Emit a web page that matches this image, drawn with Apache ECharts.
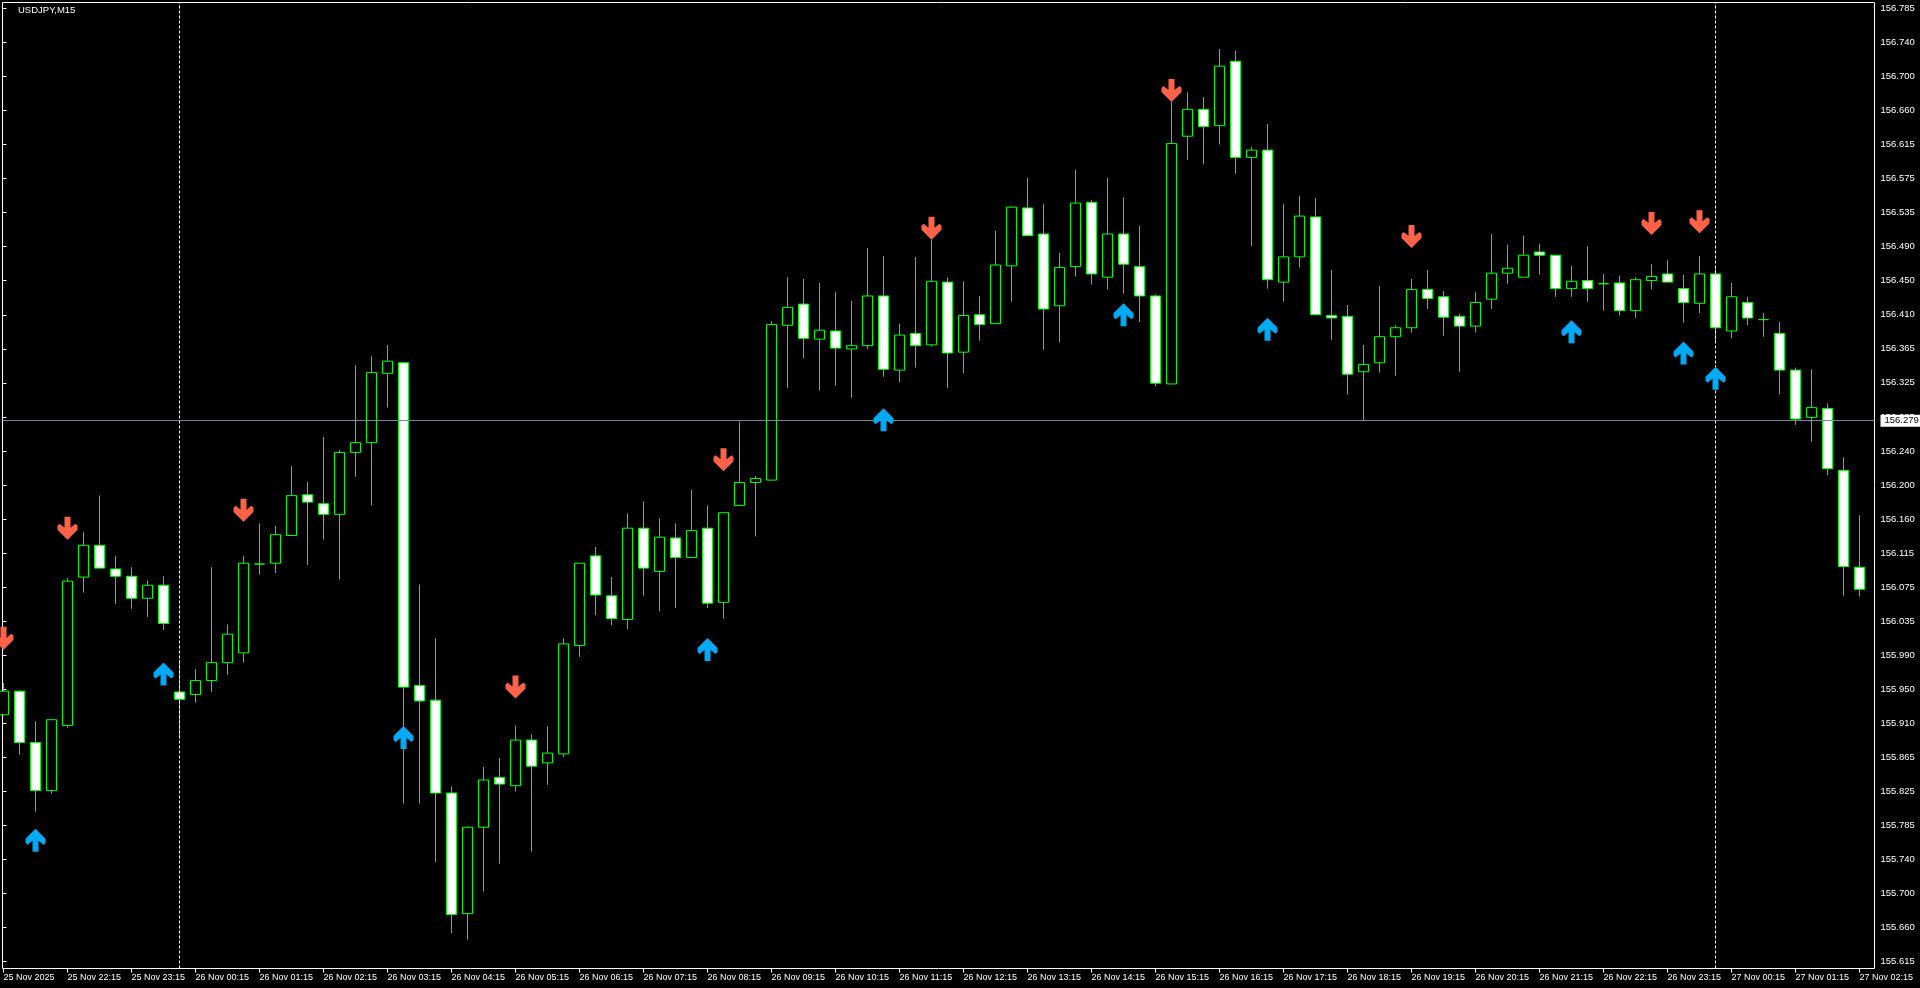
<!DOCTYPE html>
<html><head><meta charset="utf-8">
<script src="https://cdn.jsdelivr.net/npm/echarts@6/dist/echarts.min.js"></script>
<style>html,body{margin:0;padding:0;background:#000;overflow:hidden}#c{width:1920px;height:988px;}</style>
</head><body><div id="c"></div>
<script>
const symbolName = 'USDJPY,M15';

const categories = [
'25 Nov 21:15','25 Nov 21:30','25 Nov 21:45',
'25 Nov 22:00','25 Nov 22:15','25 Nov 22:30','25 Nov 22:45',
'25 Nov 23:00','25 Nov 23:15','25 Nov 23:30','25 Nov 23:45',
'26 Nov 00:00','26 Nov 00:15','26 Nov 00:30','26 Nov 00:45',
'26 Nov 01:00','26 Nov 01:15','26 Nov 01:30','26 Nov 01:45',
'26 Nov 02:00','26 Nov 02:15','26 Nov 02:30','26 Nov 02:45',
'26 Nov 03:00','26 Nov 03:15','26 Nov 03:30','26 Nov 03:45',
'26 Nov 04:00','26 Nov 04:15','26 Nov 04:30','26 Nov 04:45',
'26 Nov 05:00','26 Nov 05:15','26 Nov 05:30','26 Nov 05:45',
'26 Nov 06:00','26 Nov 06:15','26 Nov 06:30','26 Nov 06:45',
'26 Nov 07:00','26 Nov 07:15','26 Nov 07:30','26 Nov 07:45',
'26 Nov 08:00','26 Nov 08:15','26 Nov 08:30','26 Nov 08:45',
'26 Nov 09:00','26 Nov 09:15','26 Nov 09:30','26 Nov 09:45',
'26 Nov 10:00','26 Nov 10:15','26 Nov 10:30','26 Nov 10:45',
'26 Nov 11:00','26 Nov 11:15','26 Nov 11:30','26 Nov 11:45',
'26 Nov 12:00','26 Nov 12:15','26 Nov 12:30','26 Nov 12:45',
'26 Nov 13:00','26 Nov 13:15','26 Nov 13:30','26 Nov 13:45',
'26 Nov 14:00','26 Nov 14:15','26 Nov 14:30','26 Nov 14:45',
'26 Nov 15:00','26 Nov 15:15','26 Nov 15:30','26 Nov 15:45',
'26 Nov 16:00','26 Nov 16:15','26 Nov 16:30','26 Nov 16:45',
'26 Nov 17:00','26 Nov 17:15','26 Nov 17:30','26 Nov 17:45',
'26 Nov 18:00','26 Nov 18:15','26 Nov 18:30','26 Nov 18:45',
'26 Nov 19:00','26 Nov 19:15','26 Nov 19:30','26 Nov 19:45',
'26 Nov 20:00','26 Nov 20:15','26 Nov 20:30','26 Nov 20:45',
'26 Nov 21:00','26 Nov 21:15','26 Nov 21:30','26 Nov 21:45',
'26 Nov 22:00','26 Nov 22:15','26 Nov 22:30','26 Nov 22:45',
'26 Nov 23:00','26 Nov 23:15','26 Nov 23:30','26 Nov 23:45',
'27 Nov 00:00','27 Nov 00:15','27 Nov 00:30','27 Nov 00:45',
'27 Nov 01:00','27 Nov 01:15','27 Nov 01:30','27 Nov 01:45',
'27 Nov 02:00','27 Nov 02:15'
];

const opens = [
155.918,155.947,155.884,155.825,155.905,156.087,156.126,156.097,156.088,156.061,
156.077,155.946,155.943,155.960,155.982,155.994,156.103,156.104,156.138,156.188,
156.177,156.164,156.240,156.252,156.337,156.350,155.954,155.936,155.822,155.674,
155.780,155.841,155.831,155.887,155.859,155.870,156.003,156.113,156.064,156.035,
156.147,156.094,156.135,156.111,156.147,156.056,156.175,156.203,156.206,156.396,
156.422,156.379,156.389,156.367,156.371,156.432,156.341,156.386,156.372,156.449,
156.363,156.409,156.398,156.469,156.540,156.508,156.420,156.468,156.547,156.455,
156.508,156.468,156.432,156.324,156.628,156.661,156.641,156.720,156.602,156.611,
156.449,156.480,156.529,156.408,156.407,156.339,156.350,156.382,156.393,156.440,
156.431,156.407,156.395,156.428,156.460,156.455,156.486,156.482,156.441,156.451,
156.447,156.448,156.414,156.451,156.459,156.441,156.423,156.459,156.389,156.424,
156.403,156.386,156.341,156.283,156.294,156.218,156.099
];
const highs = [
155.957,155.948,155.910,155.912,156.086,156.142,156.187,156.113,156.099,156.083,
156.088,155.985,155.974,156.099,156.029,156.113,156.153,156.150,156.223,156.204,
156.259,156.243,156.347,156.358,156.372,156.351,156.078,156.012,155.830,155.781,
155.854,155.865,155.905,155.894,155.904,156.012,156.104,156.124,156.087,156.165,
156.180,156.159,156.153,156.194,156.175,156.166,156.278,156.211,156.401,156.455,
156.453,156.448,156.437,156.426,156.491,156.481,156.398,156.480,156.501,156.455,
156.450,156.432,156.512,156.542,156.577,156.545,156.485,156.587,156.550,156.577,
156.553,156.518,156.434,156.670,156.682,156.676,156.735,156.733,156.615,156.643,
156.545,156.555,156.552,156.464,156.421,156.372,156.444,156.396,156.453,156.464,
156.438,156.410,156.437,156.508,156.495,156.506,156.496,156.482,156.469,156.493,
156.459,156.457,156.455,156.471,156.476,156.458,156.481,156.466,156.448,156.431,
156.411,156.400,156.344,156.342,156.300,156.234,156.163
];
const lows = [
155.917,155.869,155.799,155.821,155.902,156.068,156.098,156.054,156.048,156.038,
156.022,155.890,155.933,155.946,155.967,155.982,156.090,156.092,156.138,156.102,
156.133,156.084,156.210,156.175,156.295,155.809,155.809,155.737,155.650,155.642,
155.701,155.735,155.824,155.750,155.832,155.866,155.989,156.040,156.028,156.023,
156.064,156.045,156.049,156.111,156.049,156.036,156.175,156.137,156.206,156.319,
156.356,156.316,156.322,156.307,156.367,156.333,156.326,156.344,156.370,156.319,
156.337,156.377,156.398,156.425,156.506,156.366,156.375,156.456,156.446,156.440,
156.435,156.400,156.321,156.324,156.599,156.594,156.618,156.582,156.493,156.441,
156.425,156.467,156.409,156.378,156.311,156.279,156.338,156.334,156.387,156.416,
156.383,156.339,156.387,156.416,156.447,156.455,156.458,156.431,156.431,156.425,
156.414,156.408,156.405,156.440,156.449,156.399,156.411,156.376,156.380,156.396,
156.382,156.311,156.274,156.253,156.212,156.064,156.063
];
const closes = [
155.947,155.884,155.825,155.912,156.082,156.126,156.098,156.088,156.061,156.077,
156.030,155.937,155.960,155.982,156.017,156.104,156.103,156.139,156.187,156.179,
156.164,156.240,156.252,156.338,156.352,155.952,155.935,155.822,155.673,155.780,
155.838,155.833,155.887,155.855,155.871,156.005,156.104,156.065,156.036,156.147,
156.098,156.136,156.111,156.144,156.055,156.166,156.203,156.208,156.397,156.418,
156.380,156.390,156.368,156.371,156.432,156.342,156.384,156.371,156.450,156.362,
156.408,156.397,156.470,156.541,156.506,156.416,156.467,156.546,156.459,156.508,
156.471,156.432,156.325,156.619,156.661,156.640,156.714,156.602,156.611,156.452,
156.480,156.530,156.409,156.405,156.336,156.348,156.382,156.393,156.440,156.429,
156.406,156.395,156.424,156.460,156.466,156.482,156.482,156.441,156.450,156.441,
156.447,156.414,156.452,156.456,156.449,156.424,156.459,156.393,156.431,156.405,
156.403,156.341,156.281,156.295,156.220,156.100,156.072
];

const sellArrowBars   = [0, 4, 15, 32, 45, 58, 73, 88, 103, 106];
const sellArrowPrices = [156.012,156.147,156.169,155.952,156.231,156.515,156.684,156.505,156.521,156.523];
const buyArrowBars    = [2, 10, 25, 44, 55, 70, 79, 98, 105, 107];
const buyArrowPrices  = [155.764,155.968,155.890,155.998,156.280,156.409,156.391,156.388,156.362,156.331];

const xTickLabels = [
'25 Nov 2025','25 Nov 22:15','25 Nov 23:15',
'26 Nov 00:15','26 Nov 01:15','26 Nov 02:15','26 Nov 03:15','26 Nov 04:15','26 Nov 05:15',
'26 Nov 06:15','26 Nov 07:15','26 Nov 08:15','26 Nov 09:15','26 Nov 10:15','26 Nov 11:15',
'26 Nov 12:15','26 Nov 13:15','26 Nov 14:15','26 Nov 15:15','26 Nov 16:15','26 Nov 17:15',
'26 Nov 18:15','26 Nov 19:15','26 Nov 20:15','26 Nov 21:15','26 Nov 22:15','26 Nov 23:15',
'27 Nov 00:15','27 Nov 01:15','27 Nov 02:15'
];
const yTickLabels = [
'155.615','155.660','155.700','155.740','155.785','155.825','155.865','155.910','155.950','155.990',
'156.035','156.075','156.115','156.160','156.200','156.240','156.285','156.325','156.365','156.410',
'156.450','156.490','156.535','156.575','156.615','156.660','156.700','156.740','156.785'
];
const daySeparators = ['26 Nov 00:00', '27 Nov 00:00'];
const hLinePrice = 156.279;

// ---- layout ----
const Y_MIN = 155.60666, Y_MAX = 156.79213;
const TICK_LO = 155.615, TICK_HI = 156.785;
const tickStep = (TICK_HI - TICK_LO) / (yTickLabels.length - 1);
const tickPos = yTickLabels.map((_, k) => TICK_LO + k * tickStep);
const FONT = '"Liberation Sans", Arial, sans-serif';
const FS = 9.5;
const FSX = 9;

const downArrow = 'path://M7,0 L13,0 L13,11 L18,7 L20,9 L20,13 L10,23 L0,13 L0,9 L2,7 L7,11 Z';
const upArrow   = 'path://M7,23 L13,23 L13,12 L18,16 L20,14 L20,10 L10,0 L0,10 L0,14 L2,16 L7,12 Z';

const candleData = categories.map((_, i) => [opens[i], closes[i], lows[i], highs[i]]);

const chart = echarts.init(document.getElementById('c'), null, {renderer: 'canvas'});
chart.setOption({
  backgroundColor: '#000',
  animation: false,
  title: { text: symbolName, left: 18, top: 5, padding: 0,
    textStyle: { color: '#fff', fontSize: FS, fontWeight: 'normal', fontFamily: FONT } },
  grid: [
    { left: -4.5, width: 1872, top: 2.5, bottom: 19.5, containLabel: false, outerBoundsMode: 'none' },
    { left: 2.5, right: 45.5, top: 2.5, bottom: 19.5, containLabel: false, outerBoundsMode: 'none',
      show: true, borderColor: '#ffffff', borderWidth: 1, backgroundColor: 'transparent' }
  ],
  xAxis: [
    { type: 'category', gridIndex: 0, data: categories, boundaryGap: true,
      axisLine: { show: false },
      axisTick: { show: true, interval: 3, alignWithLabel: true, length: 4, lineStyle: { color: '#fff' } },
      axisLabel: { interval: 3, align: 'left', margin: 5, color: '#fff', fontSize: FSX, fontFamily: FONT,
        hideOverlap: false, overflow: 'none', width: 120,
        formatter: (v, i) => xTickLabels[Math.round(i / 4)] },
      splitLine: { show: false } },
    { type: 'value', gridIndex: 1, min: 0, max: 1, show: false }
  ],
  yAxis: [
    { type: 'value', gridIndex: 0, min: Y_MIN, max: Y_MAX, show: false },
    { type: 'value', gridIndex: 1, position: 'right', min: Y_MIN, max: Y_MAX,
      axisLine: { show: false }, splitLine: { show: false },
      axisTick: { show: true, customValues: tickPos, length: 4, lineStyle: { color: '#fff' } },
      axisLabel: { customValues: tickPos, margin: 6, color: '#fff', fontSize: FS, fontFamily: FONT,
        formatter: v => yTickLabels[Math.round((v - TICK_LO) / tickStep)] } },
    { type: 'value', gridIndex: 1, position: 'right', min: Y_MIN, max: Y_MAX, z: 10,
      axisLine: { show: false }, splitLine: { show: false }, axisTick: { show: false },
      axisLabel: { customValues: [hLinePrice], margin: 6, color: '#000', backgroundColor: '#fff',
        padding: [1, 8, 1, 4], fontSize: FS, fontFamily: FONT, formatter: v => v.toFixed(3) } }
  ],
  series: [
    { type: 'candlestick', xAxisIndex: 0, yAxisIndex: 0, data: candleData, barWidth: 10,
      itemStyle: { color: '#000000', color0: '#ffffff', borderColor: '#00ff00', borderColor0: '#00ff00', borderWidth: 1 },
      markLine: { silent: true, symbol: 'none', label: { show: false },
        lineStyle: { color: '#ffffff', type: [3, 2], width: 1 },
        data: daySeparators.map(d => ({ xAxis: d })) } },
    { type: 'scatter', xAxisIndex: 0, yAxisIndex: 0, symbol: downArrow, symbolSize: [20, 23], z: 5,
      itemStyle: { color: '#ff6347', opacity: 1 },
      data: sellArrowBars.map((b, j) => [b, sellArrowPrices[j]]) },
    { type: 'scatter', xAxisIndex: 0, yAxisIndex: 0, symbol: upArrow, symbolSize: [20, 23], z: 5,
      itemStyle: { color: '#00aaf5', opacity: 1 },
      data: buyArrowBars.map((b, j) => [b, buyArrowPrices[j]]) },
    { type: 'line', xAxisIndex: 1, yAxisIndex: 1, data: [], z: 1,
      markLine: { silent: true, symbol: 'none', label: { show: false },
        lineStyle: { color: '#778899', type: 'solid', width: 1 },
        data: [{ yAxis: hLinePrice }] } }
  ]
});
</script>
</body></html>
